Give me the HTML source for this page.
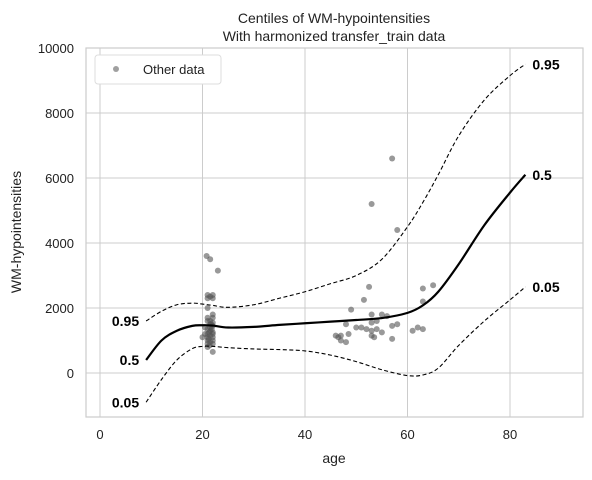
<!DOCTYPE html>
<html><head><meta charset="utf-8"><style>
body{margin:0;background:#fff;font-family:"Liberation Sans",sans-serif}
svg text{font-family:"Liberation Sans",sans-serif}
</style></head><body>
<svg id="chart" width="592" height="475">
<text x="334" y="23" text-anchor="middle" font-size="14" fill="#222">Centiles of WM-hypointensities</text>
<text x="334" y="41" text-anchor="middle" font-size="14" fill="#222">With harmonized transfer_train data</text>
<g id="grid"></g><g id="pts"></g><g id="lines"></g><g id="ticks"></g>
<rect x="86" y="48" width="497" height="369" fill="none" stroke="#ccc" stroke-width="1.2"/>
<text x="334" y="463" text-anchor="middle" font-size="14" fill="#222">age</text>
<text transform="translate(21,232) rotate(-90)" text-anchor="middle" font-size="14" fill="#222">WM-hypointensities</text>
<g>
<rect x="95" y="55" width="126" height="29" rx="3" fill="#fff" stroke="#ddd"/>
<circle cx="116" cy="69" r="3" fill="#888" fill-opacity="0.8"/>
<text x="143" y="74" font-size="13" fill="#222">Other data</text>
</g>
</svg>
<script>
const xTicks=[0,20,40,60,80];
const yTicks=[0,2000,4000,6000,8000,10000];
const ages=[9,12,15,18,20,22,25,30,35,40,45,50,55,60,63,66,70,75,80,83];
const q50=[400,1000,1300,1450,1470,1460,1400,1420,1480,1530,1580,1630,1690,1850,2080,2500,3350,4550,5550,6100];
const q95=[1600,1900,2100,2150,2120,2080,2020,2100,2300,2500,2750,3000,3500,4500,5250,6100,7300,8400,9150,9500];
const q05=[-900,-200,400,750,820,820,780,740,720,680,550,350,100,-80,-60,150,850,1600,2250,2650];
const ptAge=[20.8,21.5,23,21,21.5,22,21,22,21,20.5,20,20.5,22,21,21,21,21,21,21.5,21.5,21.5,21.5,22,22,22,22,22,22,21,21.5,22,21,22,21.5,21,22,21.2,21.8,21.3,21.7,21.4,
46,46.5,47,47,48,48,48.5,49,50,51,51.5,52,52.5,53,53,53,53,53.5,54,54,55,55,56,57,57,57,53,58,58,61,62,63,63,63,65];
const ptVal=[3600,3500,3150,2400,2350,2400,2300,2300,2000,1400,1100,1200,650,800,900,1000,1100,1200,1300,1400,1500,1600,1700,1800,1550,1250,1000,900,1350,1150,1450,1600,1100,950,1700,1200,1050,1350,1250,1500,850,
1150,1100,1000,1150,950,1500,1200,1950,1400,1400,2250,1350,2650,1300,1800,1550,1150,1100,1600,1350,1800,1250,1750,1450,1050,6600,5200,4400,1500,1300,1400,2600,2200,1350,2700];
const X=a=>100+a*5.125, Y=v=>373-v*0.0325;
const NS='http://www.w3.org/2000/svg';
function mk(t,p,at){const e=document.createElementNS(NS,t);for(const k in at)e.setAttribute(k,at[k]);p.appendChild(e);return e;}
const grid=document.getElementById('grid'),ticks=document.getElementById('ticks');
xTicks.forEach(t=>{const l=mk('line',grid,{x1:X(t),x2:X(t),y1:48,y2:417,stroke:'#ccc'});


const tx=mk('text',ticks,{x:X(t),y:439,'text-anchor':'middle','font-size':13,fill:'#222'});tx.textContent=t;

});
yTicks.forEach(t=>{const l=mk('line',grid,{x1:86,x2:583,y1:Y(t),y2:Y(t),stroke:'#ccc'});


const tx=mk('text',ticks,{x:74,y:Y(t)+5,'text-anchor':'end','font-size':13,fill:'#222'});tx.textContent=t;

});
const pts=document.getElementById('pts');
ptAge.forEach((a,i)=>{const c=mk('circle',pts,{cx:X(a),cy:Y(ptVal[i]),r:3,fill:'#555','fill-opacity':0.6});

});
function path(vals){const p=ages.map((a,i)=>[X(a),Y(vals[i])]);
let d='M'+p[0];for(let i=0;i<p.length-1;i++){const p0=p[i-1]||p[i],p1=p[i],p2=p[i+1],p3=p[i+2]||p2;
d+=' C'+(p1[0]+(p2[0]-p0[0])/6)+','+(p1[1]+(p2[1]-p0[1])/6)+' '+(p2[0]-(p3[0]-p1[0])/6)+','+(p2[1]-(p3[1]-p1[1])/6)+' '+p2;}return d;}
const lines=document.getElementById('lines');
[[q95,'0.95',true],[q50,'0.5',false],[q05,'0.05',true]].forEach(([v,lab,dash])=>{
const p=mk('path',lines,{d:path(v),fill:'none',stroke:'#000','stroke-width':dash?1.1:2.2,'stroke-dasharray':dash?'4,2.5':'none'});


const t1=mk('text',lines,{x:X(ages[0])-7,y:Y(v[0])+5,'text-anchor':'end','font-size':14,'font-weight':'bold',fill:'#000'});t1.textContent=lab;


const t2=mk('text',lines,{x:X(ages[ages.length-1])+7,y:Y(v[v.length-1])+5,'font-size':14,'font-weight':'bold',fill:'#000'});t2.textContent=lab;

});
</script>
</body></html>
